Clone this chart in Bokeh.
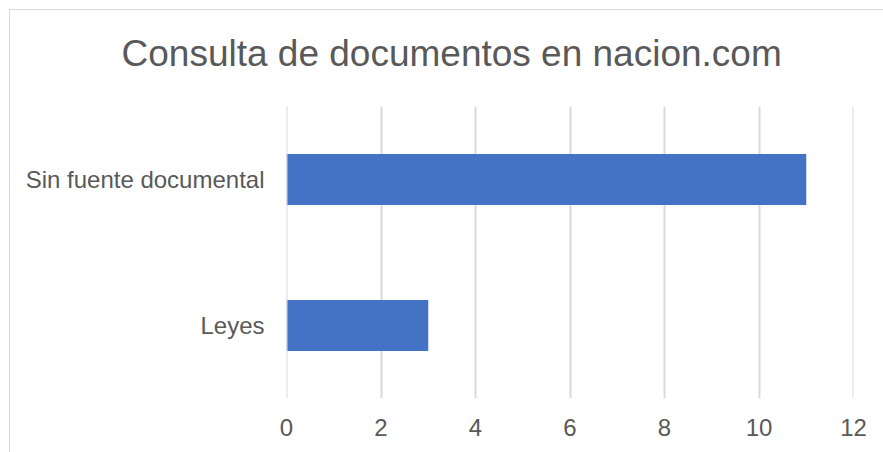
from bokeh.plotting import figure
from bokeh.models import FactorRange, Range1d, FixedTicker, Span
from bokeh.embed import file_html
from bokeh.resources import INLINE

title_text = "Consulta de documentos en nacion.com"
categories = ["Leyes", "Sin fuente documental"]
values = [3, 11]
x_ticks = [0, 2, 4, 6, 8, 10, 12]

FONT = "Liberation Sans"
TEXT = "#595959"
GRID = "#D9D9D9"
BAR = "#4472C4"

p = figure(
    width=883, height=452,
    y_range=FactorRange(factors=categories, range_padding=0),
    x_range=Range1d(x_ticks[0], x_ticks[-1]),
    output_backend="svg", toolbar_location=None,
    min_border_left=286, min_border_right=30,
    min_border_top=106, min_border_bottom=54,
)
p.border_fill_color = None
p.background_fill_color = "white"
p.styles = {
    "background": (
        "linear-gradient(#D9D9D9,#D9D9D9) 9px 9px / 1px 100% no-repeat, "
        "linear-gradient(#D9D9D9,#D9D9D9) 9px 9px / 100% 1px no-repeat, white"
    )
}

# gridlines at the range ends (Bokeh's grid skips lines on the frame edges)
for t in (x_ticks[0], x_ticks[-1]):
    p.add_layout(Span(location=t, dimension="height", line_color=GRID, line_width=2))

p.hbar(y=categories, right=values, left=0, height=0.35, color=BAR, line_color=None)

p.title.text = title_text
p.title.text_font = FONT
p.title.text_font_size = "37px"
p.title.text_font_style = "normal"
p.title.text_color = TEXT
p.title.align = "left"
p.title.vertical_align = "top"
p.title.offset = -165
p.title.standoff = 62

p.outline_line_color = None
p.ygrid.grid_line_color = None
p.xgrid.grid_line_color = GRID
p.xgrid.grid_line_width = 2

p.xaxis.ticker = FixedTicker(ticks=x_ticks)
for ax in (p.xaxis, p.yaxis):
    ax.axis_line_color = None
    ax.major_tick_line_color = None
    ax.minor_tick_line_color = None
    ax.major_tick_out = 0
    ax.major_tick_in = 0
    ax.major_label_text_font = FONT
    ax.major_label_text_font_size = "24px"
    ax.major_label_text_color = TEXT
p.xaxis.major_label_standoff = 20
p.yaxis.major_label_standoff = 22

open("out.html", "w").write(file_html(p, INLINE))
